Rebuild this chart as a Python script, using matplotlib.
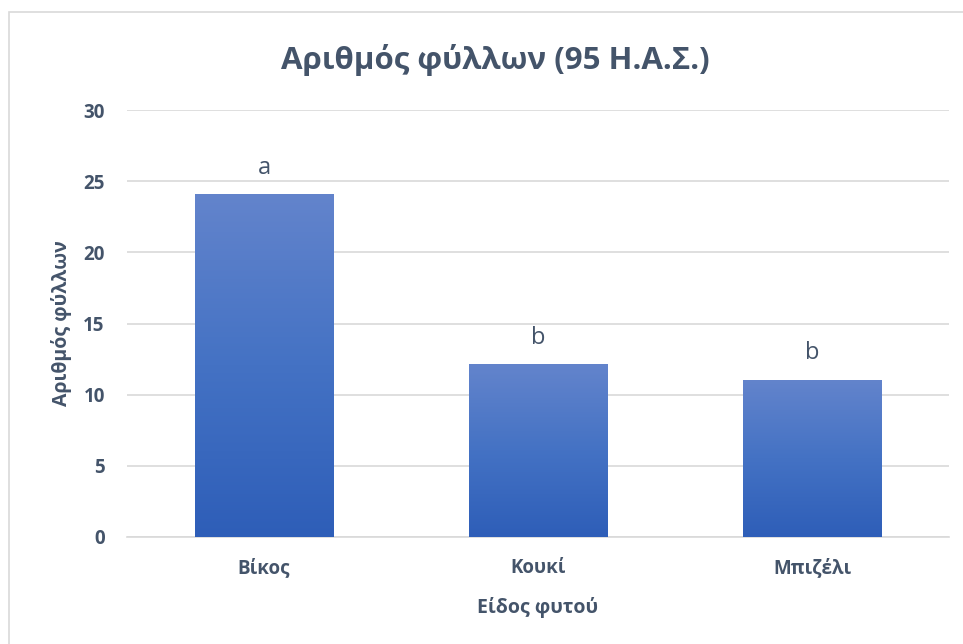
import matplotlib
matplotlib.use("Agg")
import matplotlib.pyplot as plt
import matplotlib.patches as patches
import numpy as np
from matplotlib.colors import LinearSegmentedColormap

# Données
categories = ["Βίκος", "Κουκί", "Μπιζέλι"]
values = [24.1, 12.15, 11.05]
letters = ["a", "b", "b"]
yticks = [0, 5, 10, 15, 20, 25, 30]

plt.rcParams['font.family'] = ['Open Sans', 'DejaVu Sans']
txt_color = "#44546A"
grid_color = "#D9D9D9"

fig = plt.figure(figsize=(9.63, 6.44), dpi=100)
W, H = 963, 644
ax = fig.add_axes([127 / W, 1 - 537 / H, (949 - 127) / W, (537 - 110) / H])

# Cadre du graphique (bord gris clair)
fig.patches.append(patches.Rectangle((9 / W, -0.1), 1.2, 0.1 + 1 - 12 / H,
                                     transform=fig.transFigure, fill=False,
                                     edgecolor=grid_color, lw=1.2))

x = np.arange(len(categories))
bars = ax.bar(x, values, width=0.504, color="none", zorder=3)

# Dégradé vertical dans chaque barre
cmap = LinearSegmentedColormap.from_list("grad", ["#2E5EB8", "#4472C4", "#6384CC"])
grad = np.linspace(0, 1, 256).reshape(-1, 1)
for b in bars:
    x0, y0 = b.get_x(), b.get_y()
    im = ax.imshow(grad, cmap=cmap, aspect="auto", origin="lower",
                   extent=[x0, x0 + b.get_width(), y0, y0 + b.get_height()], zorder=3)
    im.set_clip_path(b)

for i, v in enumerate(values):
    ax.text(x[i], v + 1.0, letters[i], ha="center", va="bottom",
            fontsize=17, color=txt_color)

ax.set_xlim(-0.5, len(categories) - 0.5)
ax.set_ylim(0, 30)
ax.set_yticks(yticks)
ax.set_xticks(x)
ax.set_xticklabels(categories)
ax.yaxis.grid(True, color=grid_color, lw=1.2, zorder=0)
ax.set_axisbelow(True)
for s in ["top", "right", "left"]:
    ax.spines[s].set_visible(False)
ax.spines["bottom"].set_color(grid_color)
ax.spines["bottom"].set_linewidth(1.2)
ax.tick_params(axis="both", length=0, labelcolor=txt_color, labelsize=13.5)
ax.tick_params(axis="y", pad=16)
ax.tick_params(axis="x", pad=15)
for lab in ax.get_xticklabels() + ax.get_yticklabels():
    lab.set_fontweight("bold")

ax.set_xlabel("Είδος φυτού", fontsize=14, fontweight="bold", color=txt_color, labelpad=14)
ax.set_ylabel("Αριθμός φύλλων", fontsize=14, fontweight="bold", color=txt_color, labelpad=8)

fig.text(495 / W, 1 - 60 / H, "Αριθμός φύλλων (95 Η.Α.Σ.)", ha="center", va="center",
         fontsize=22.5, fontweight="bold", color=txt_color)

fig.savefig("out.png", dpi=100)
